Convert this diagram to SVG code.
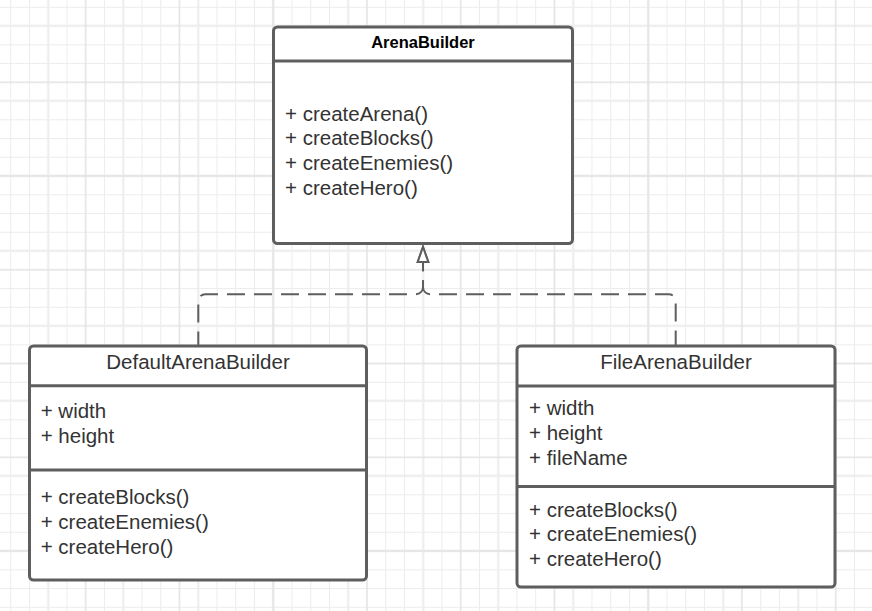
<svg xmlns="http://www.w3.org/2000/svg" width="872" height="611" viewBox="0 0 872 611">
  <style>
    .box { fill: #ffffff; stroke: #5e5e5e; stroke-width: 3; }
    .div { stroke: #5e5e5e; stroke-width: 3; fill: none; }
    .txt { font-family: "Liberation Sans", Arial, sans-serif; font-size: 20.5px; fill: #333333; }
    .ttl { font-family: "Liberation Sans", Arial, sans-serif; font-size: 20.5px; fill: #333333; text-anchor: middle; }
    .ttlb { font-family: "Liberation Sans", Arial, sans-serif; font-size: 16.5px; font-weight: bold; fill: #000000; text-anchor: middle; }
    .conn { fill: none; stroke: #5e5e5e; stroke-width: 2; stroke-dasharray: 18 9; }
  </style>
  <defs>
    <pattern id="gFine" patternUnits="userSpaceOnUse" x="1.325" y="-2.075" width="18.75" height="18.75">
      <path d="M9.375 0V18.75M0 9.375H18.75" stroke="#ececec" stroke-width="1" fill="none"/>
    </pattern>
    <pattern id="gThick" patternUnits="userSpaceOnUse" x="10.8" y="-11.8" width="75" height="75">
      <path d="M37.5 0V75M0 37.5H75" stroke="#eeeeee" stroke-width="2" fill="none"/>
    </pattern>
    <pattern id="gDark" patternUnits="userSpaceOnUse" x="38.825" y="35.425" width="93.75" height="93.75">
      <path d="M46.875 0V93.75M0 46.875H93.75" stroke="#dedede" stroke-width="1" fill="none"/>
    </pattern>
    <marker id="tri" markerUnits="userSpaceOnUse" viewBox="0 0 16 12" refX="0" refY="6" markerWidth="16" markerHeight="12" orient="auto" overflow="visible">
      <path d="M0 0.7L15 6L0 11.3Z" fill="#ffffff" stroke="#5e5e5e" stroke-width="2" stroke-linejoin="miter"/>
    </marker>
  </defs>

  <g id="background">
    <rect x="0" y="0" width="872" height="611" fill="#ffffff"/>
    <rect x="0" y="0" width="872" height="611" fill="url(#gFine)"/>
    <rect x="0" y="0" width="872" height="611" fill="url(#gThick)"/>
    <rect x="0" y="0" width="872" height="611" fill="url(#gDark)"/>
  </g>

  <g id="connectors">
    <path class="conn" stroke-dashoffset="3.6" d="M198.3 346V301.2A7 7 0 0 1 205.3 294.2H416A7 7 0 0 0 423 287.2V262" marker-end="url(#tri)"/>
    <path class="conn" stroke-dashoffset="2.6" d="M675.7 346V301.2A7 7 0 0 0 668.7 294.2H430A7 7 0 0 1 423 287.2V262" marker-end="url(#tri)"/>
  </g>

  <g id="ArenaBuilder">
    <rect class="box" x="273.5" y="27" width="299" height="216.5" rx="4"/>
    <line class="div" x1="273.5" y1="61" x2="572.5" y2="61"/>
    <text class="ttlb" x="423" y="47.7">ArenaBuilder</text>
    <text class="txt" x="285" y="120.5">+ createArena()</text>
    <text class="txt" x="285" y="145.2">+ createBlocks()</text>
    <text class="txt" x="285" y="169.9">+ createEnemies()</text>
    <text class="txt" x="285" y="194.6">+ createHero()</text>
  </g>

  <g id="DefaultArenaBuilder">
    <rect class="box" x="29.5" y="346" width="337" height="234" rx="4"/>
    <line class="div" x1="29.5" y1="385.7" x2="366.5" y2="385.7"/>
    <line class="div" x1="29.5" y1="470" x2="366.5" y2="470"/>
    <text class="ttl" x="198" y="369">DefaultArenaBuilder</text>
    <text class="txt" x="40.7" y="418.3">+ width</text>
    <text class="txt" x="40.7" y="443">+ height</text>
    <text class="txt" x="40.7" y="504.3">+ createBlocks()</text>
    <text class="txt" x="40.7" y="529">+ createEnemies()</text>
    <text class="txt" x="40.7" y="553.7">+ createHero()</text>
  </g>

  <g id="FileArenaBuilder">
    <rect class="box" x="517" y="346" width="318" height="241" rx="4"/>
    <line class="div" x1="517" y1="386" x2="835" y2="386"/>
    <line class="div" x1="517" y1="486.5" x2="835" y2="486.5"/>
    <text class="ttl" x="676" y="369">FileArenaBuilder</text>
    <text class="txt" x="529" y="415">+ width</text>
    <text class="txt" x="529" y="440">+ height</text>
    <text class="txt" x="529" y="465">+ fileName</text>
    <text class="txt" x="529" y="516.5">+ createBlocks()</text>
    <text class="txt" x="529" y="541.3">+ createEnemies()</text>
    <text class="txt" x="529" y="566">+ createHero()</text>
  </g>
</svg>
